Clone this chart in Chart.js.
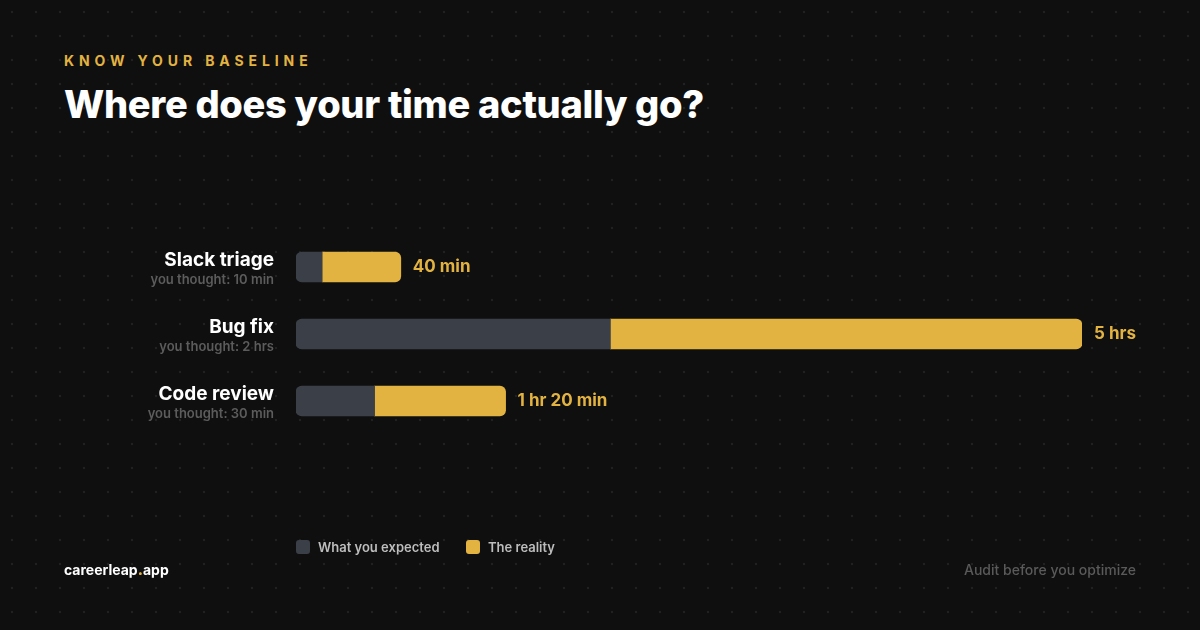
<!DOCTYPE html>
<html>
<head>
<meta charset="utf-8">
<script src="https://cdn.jsdelivr.net/npm/chart.js@4"></script>
<style>
  html, body { margin: 0; padding: 0; }
  body {
    width: 1200px; height: 630px; overflow: hidden; position: relative;
    background-color: #0f0f0f;
    background-image: radial-gradient(circle, #212121 1.2px, transparent 1.6px);
    background-size: 24px 24px;
    background-position: 0 0;
    font-family: Inter, "Noto Sans", sans-serif;
  }
  #kicker {
    position: absolute; left: 64px; top: 52px;
    color: #e3b341; font-size: 14px; font-weight: 700; letter-spacing: 4.9px;
  }
  #title {
    position: absolute; left: 64px; top: 81px;
    color: #fff; font-size: 38px; font-weight: 800; letter-spacing: -0.3px;
  }
  #chart { position: absolute; left: 0; top: 0; }
  .legend { position: absolute; top: 539px; display: flex; align-items: center; color: #bdbdbd; font-size: 13px; font-weight: 600; }
  .legend span.box { width: 14px; height: 14px; border-radius: 3px; margin-right: 8px; }
  #brand { position: absolute; left: 64px; top: 561px; color: #fff; font-size: 14px; font-weight: 700; }
  #brand b { color: #e3b341; }
  #tag { position: absolute; right: 64px; top: 561px; color: #5a5a5a; font-size: 14px; font-weight: 500; }
</style>
</head>
<body>
<div id="kicker">KNOW YOUR BASELINE</div>
<div id="title">Where does your time actually go?</div>
<canvas id="chart" width="1200" height="630"></canvas>
<div class="legend" style="left:296px"><span class="box" style="background:#3b4048"></span>What you expected</div>
<div class="legend" style="left:466px"><span class="box" style="background:#e3b341"></span>The reality</div>
<div id="brand">careerleap<b>.</b>app</div>
<div id="tag">Audit before you optimize</div>
<script>
const tasks = ["Slack triage", "Bug fix", "Code review"];
const expectedMin = [10, 120, 30];
const actualMin = [40, 300, 80];
const expectedLabels = ["you thought: 10 min", "you thought: 2 hrs", "you thought: 30 min"];
const actualLabels = ["40 min", "5 hrs", "1 hr 20 min"];

const gold = "#e3b341";
const slate = "#3b4048";

const extraMin = actualMin.map((a, i) => a - expectedMin[i]);

const labelPlugin = {
  id: "labels",
  afterDatasetsDraw(chart) {
    const ctx = chart.ctx;
    const y = chart.scales.y;
    const x = chart.scales.x;
    const left = chart.chartArea.left;
    ctx.save();
    tasks.forEach((t, i) => {
      const cy = y.getPixelForValue(i);
      ctx.textAlign = "right";
      ctx.textBaseline = "alphabetic";
      ctx.fillStyle = "#ffffff";
      ctx.font = "700 19px Inter";
      ctx.fillText(t, left - 22, cy - 1);
      ctx.fillStyle = "#5c5c5c";
      ctx.font = "600 13px Inter";
      ctx.fillText(expectedLabels[i], left - 22, cy + 17);

      ctx.textAlign = "left";
      ctx.textBaseline = "middle";
      ctx.fillStyle = gold;
      ctx.font = "700 17px Inter";
      ctx.fillText(actualLabels[i], x.getPixelForValue(actualMin[i]) + 12, cy);
    });
    ctx.restore();
  }
};

new Chart(document.getElementById("chart"), {
  type: "bar",
  data: {
    labels: tasks,
    datasets: [
      {
        label: "What you expected",
        data: expectedMin,
        backgroundColor: slate,
        borderSkipped: false,
        borderRadius: { topLeft: 6, bottomLeft: 6, topRight: 0, bottomRight: 0 },
        barThickness: 30
      },
      {
        label: "The reality",
        data: extraMin,
        backgroundColor: gold,
        borderSkipped: false,
        borderRadius: { topLeft: 0, bottomLeft: 0, topRight: 6, bottomRight: 6 },
        barThickness: 30
      }
    ]
  },
  options: {
    indexAxis: "y",
    responsive: false,
    animation: false,
    layout: { padding: { left: 296, right: 118, top: 233.5, bottom: 195.5 } },
    scales: {
      x: { stacked: true, min: 0, max: 300, display: false },
      y: { stacked: true, display: false }
    },
    plugins: { legend: { display: false }, tooltip: { enabled: false } }
  },
  plugins: [labelPlugin]
});
</script>
</body>
</html>
